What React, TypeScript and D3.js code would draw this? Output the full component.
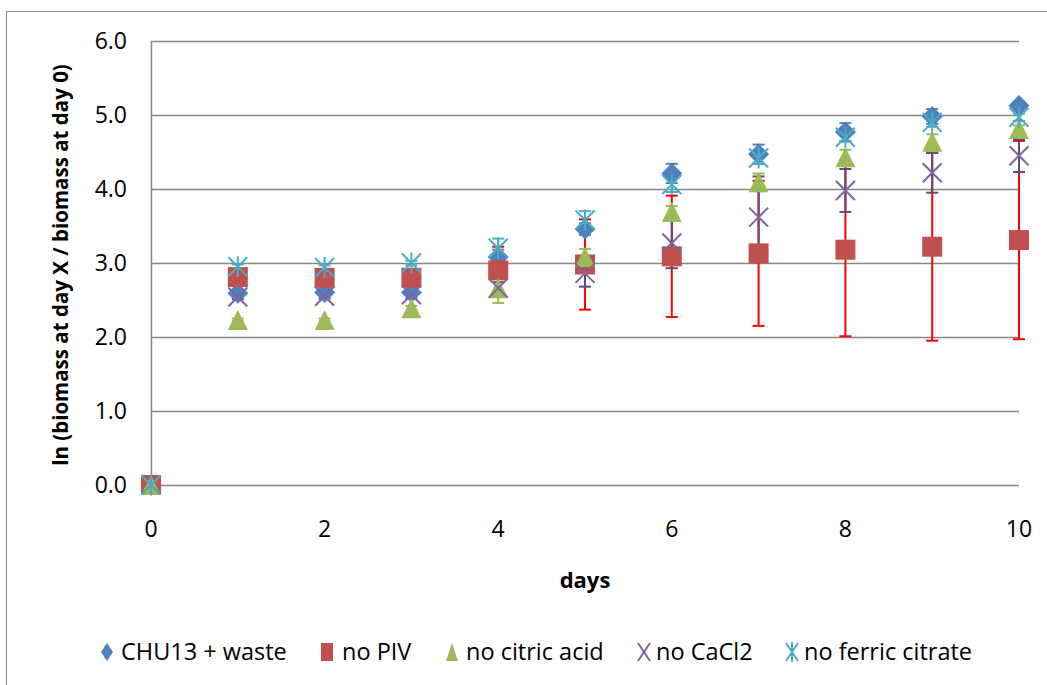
import React from "react";
import * as d3 from "d3";

const days = [0, 1, 2, 3, 4, 5, 6, 7, 8, 9, 10];
const chu13 = [0, 2.59, 2.6, 2.6, 3.08, 3.46, 4.21, 4.47, 4.77, 4.98, 5.13];
const chu13Err = [0, 0.03, 0.03, 0.03, 0.1, 0.08, 0.13, 0.13, 0.12, 0.1, 0.05];
const noPIV = [0, 2.81, 2.8, 2.8, 2.9, 2.98, 3.09, 3.13, 3.18, 3.22, 3.31];
const noPIVErr = [0, 0.05, 0.05, 0.05, 0.32, 0.61, 0.82, 0.98, 1.17, 1.27, 1.34];
const noCitric = [0, 2.23, 2.23, 2.39, 2.66, 3.08, 3.69, 4.09, 4.43, 4.64, 4.81];
const noCitricErr = [0, 0.02, 0.02, 0.03, 0.2, 0.11, 0.08, 0.12, 0.1, 0.1, 0.05];
const noCaCl2 = [0, 2.54, 2.55, 2.57, 2.66, 2.86, 3.27, 3.62, 3.98, 4.22, 4.45];
const noCaCl2Err = [0, 0.03, 0.03, 0.05, 0.08, 0.18, 0.34, 0.55, 0.29, 0.27, 0.22];
const noFerric = [0, 2.95, 2.94, 3.0, 3.2, 3.58, 4.06, 4.42, 4.7, 4.9, 4.97];
const noFerricErr = [0, 0.03, 0.03, 0.03, 0.13, 0.12, 0.1, 0.08, 0.06, 0.06, 0.05];

const seriesNames = ["CHU13 + waste", "no PIV", "no citric acid", "no CaCl2", "no ferric citrate"];
const xTicks = [0, 2, 4, 6, 8, 10];
const yTicks = [0, 1, 2, 3, 4, 5, 6];

type Shape = "diamond" | "square" | "triangle" | "x" | "star";
const series: { name: string; values: number[]; err: number[]; shape: Shape; color: string; errColor: string }[] = [
  { name: seriesNames[0], values: chu13, err: chu13Err, shape: "diamond", color: "#4F81BD", errColor: "#4F81BD" },
  { name: seriesNames[1], values: noPIV, err: noPIVErr, shape: "square", color: "#C0504D", errColor: "#FF0000" },
  { name: seriesNames[2], values: noCitric, err: noCitricErr, shape: "triangle", color: "#9BBB59", errColor: "#9BBB59" },
  { name: seriesNames[3], values: noCaCl2, err: noCaCl2Err, shape: "x", color: "#8064A2", errColor: "#604A7B" },
  { name: seriesNames[4], values: noFerric, err: noFerricErr, shape: "star", color: "#4BACC6", errColor: "#4BACC6" },
];

const FONT = "'Open Sans', 'DejaVu Sans', sans-serif";

function Marker({ shape, color, cx, cy, w, h }: { shape: Shape; color: string; cx: number; cy: number; w: number; h: number }) {
  const hw = w / 2, hh = h / 2;
  switch (shape) {
    case "diamond":
      return <polygon points={`${cx},${cy - hh} ${cx + hw},${cy} ${cx},${cy + hh} ${cx - hw},${cy}`} fill={color} />;
    case "square":
      return <rect x={cx - hw} y={cy - hh} width={w} height={h} fill={color} />;
    case "triangle":
      return <polygon points={`${cx},${cy - hh} ${cx + hw},${cy + hh} ${cx - hw},${cy + hh}`} fill={color} />;
    case "x":
      return (
        <g stroke={color} strokeWidth={2}>
          <line x1={cx - hw} y1={cy - hh} x2={cx + hw} y2={cy + hh} />
          <line x1={cx - hw} y1={cy + hh} x2={cx + hw} y2={cy - hh} />
        </g>
      );
    case "star":
      return (
        <g stroke={color} strokeWidth={2}>
          <line x1={cx - hw} y1={cy - hh} x2={cx + hw} y2={cy + hh} />
          <line x1={cx - hw} y1={cy + hh} x2={cx + hw} y2={cy - hh} />
          <line x1={cx} y1={cy - hh - 1} x2={cx} y2={cy + hh + 1} />
        </g>
      );
  }
}

const markerSize: Record<Shape, [number, number]> = {
  diamond: [21, 21],
  square: [20, 20],
  triangle: [20, 20],
  x: [19, 19],
  star: [19, 19],
};

export default function App() {
  const W = 1047, H = 685;
  const x = d3.scaleLinear().domain([0, 10]).range([151, 1019]);
  const y = d3.scaleLinear().domain([0, 6]).range([485, 41]);
  const grid = "#878787";

  const legendItems = [
    { mx: 107, tx: 121 },
    { mx: 327, tx: 342 },
    { mx: 452, tx: 466 },
    { mx: 644, tx: 656 },
    { mx: 792, tx: 804 },
  ];

  return (
    <svg width={W} height={H} style={{ display: "block", position: "absolute", left: 0, top: 0 }}>
      <rect x={0} y={0} width={W} height={H} fill="#fff" />
      {/* outer frame */}
      <rect x={6.5} y={11.5} width={W + 10} height={H + 10} fill="none" stroke="#898989" strokeWidth={1} />
      {/* gridlines */}
      {yTicks.map((t) => (
        <line key={t} x1={x(0)} x2={x(10)} y1={Math.round(y(t)) + 0.5} y2={Math.round(y(t)) + 0.5} stroke={grid} strokeWidth={1.5} />
      ))}
      <line x1={x(0) + 0.5} x2={x(0) + 0.5} y1={y(6)} y2={y(0)} stroke={grid} strokeWidth={1.5} />
      {/* y tick labels */}
      {yTicks.map((t) => (
        <text key={t} x={127} y={y(t) + 8} textAnchor="end" fontFamily={FONT} fontSize={23} fill="#000">
          {d3.format(".1f")(t)}
        </text>
      ))}
      {xTicks.map((t) => (
        <text key={t} x={x(t)} y={537} textAnchor="middle" fontFamily={FONT} fontSize={23} fill="#000">
          {t}
        </text>
      ))}
      <text x={x(5)} y={588} textAnchor="middle" fontFamily={FONT} fontSize={22} fontWeight="bold" fill="#000">
        days
      </text>
      <text
        transform={`translate(68, ${(y(0) + y(6)) / 2 + 2}) rotate(-90)`}
        textAnchor="middle"
        fontFamily={FONT}
        fontSize={20.5}
        fontWeight="bold"
        fill="#000"
      >
        ln (biomass at day X / biomass at day 0)
      </text>
      {/* error bars */}
      {series.map((s) =>
        days.map((d, i) => {
          const e = s.err[i];
          if (!e) return null;
          const cx = x(d);
          const top = y(s.values[i] + e);
          const bot = y(s.values[i] - e);
          return (
            <g key={s.name + d} stroke={s.errColor} strokeWidth={2}>
              <line x1={cx} x2={cx} y1={top} y2={bot} />
              <line x1={cx - 6} x2={cx + 6} y1={top} y2={top} />
              <line x1={cx - 6} x2={cx + 6} y1={bot} y2={bot} />
            </g>
          );
        })
      )}
      {/* markers */}
      {series.map((s) =>
        days.map((d, i) => (
          <Marker key={s.name + d} shape={s.shape} color={s.color} cx={x(d)} cy={y(s.values[i])} w={markerSize[s.shape][0]} h={markerSize[s.shape][1]} />
        ))
      )}
      {/* legend */}
      {series.map((s, i) => (
        <g key={s.name}>
          <Marker shape={s.shape} color={s.color} cx={legendItems[i].mx} cy={652} w={12} h={18} />
          <text x={legendItems[i].tx} y={660} fontFamily={FONT} fontSize={23.5} fill="#000">
            {s.name}
          </text>
        </g>
      ))}
    </svg>
  );
}
